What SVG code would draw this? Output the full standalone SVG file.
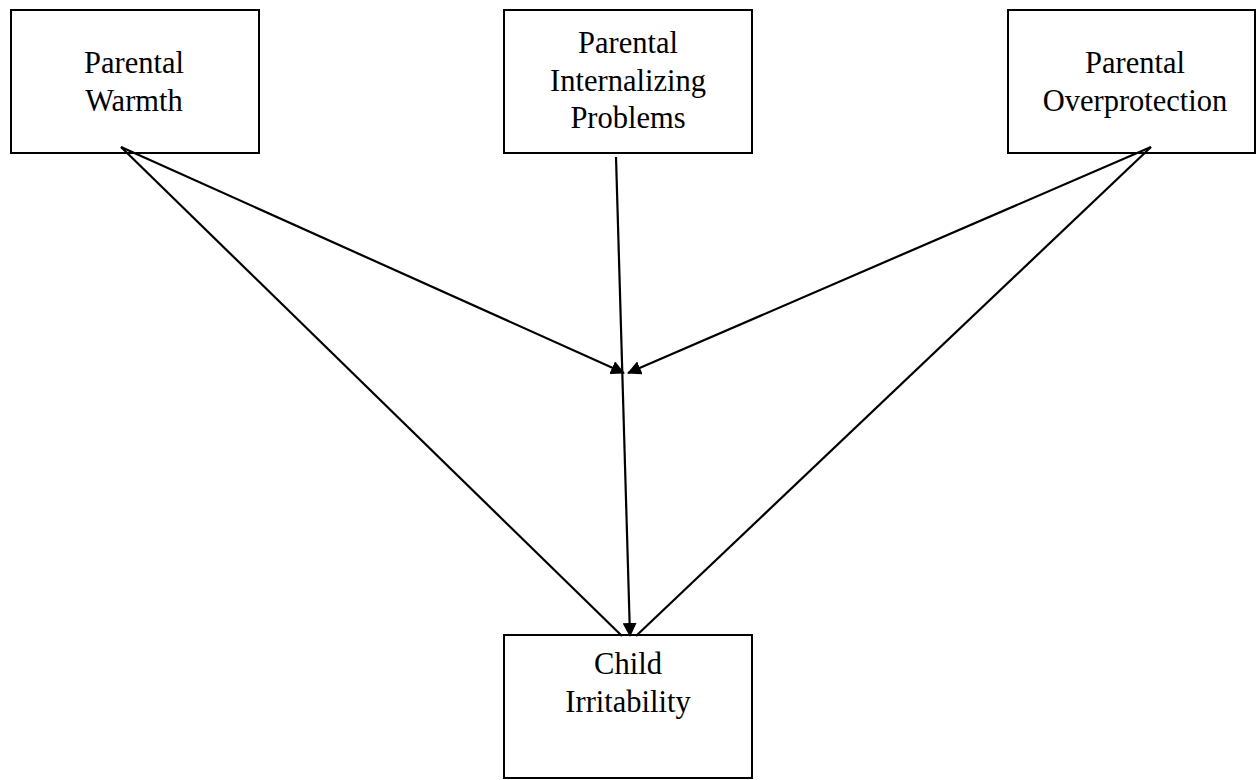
<svg xmlns="http://www.w3.org/2000/svg" width="1257" height="780" viewBox="0 0 1257 780">
<style>
.box{fill:#fff;stroke:#000;stroke-width:2}
.lbl{font-family:"Liberation Serif","Times New Roman",serif;font-size:30.5px;fill:#000;text-anchor:middle}
.edge{stroke:#000;stroke-width:2.2;fill:none}
</style>
<defs>
<marker id="ah" viewBox="0 0 14 14" refX="13" refY="7" markerWidth="14" markerHeight="14" markerUnits="userSpaceOnUse" orient="auto">
<path d="M0,0 L14,7 L0,14 Z" fill="#000"/>
</marker>
</defs>
<rect width="1257" height="780" fill="#fff"/>
<g id="warmth">
<rect class="box" x="11" y="10" width="248" height="143"/>
<text class="lbl" x="134" y="73">Parental</text>
<text class="lbl" x="134" y="111">Warmth</text>
</g>
<g id="internalizing">
<rect class="box" x="504" y="10" width="248" height="143"/>
<text class="lbl" x="628" y="53">Parental</text>
<text class="lbl" x="628" y="91">Internalizing</text>
<text class="lbl" x="628" y="128">Problems</text>
</g>
<g id="overprotection">
<rect class="box" x="1008" y="10" width="247" height="143"/>
<text class="lbl" x="1135" y="73">Parental</text>
<text class="lbl" x="1135" y="111">Overprotection</text>
</g>
<g id="child">
<rect class="box" x="504" y="635" width="248" height="143"/>
<text class="lbl" x="628" y="674">Child</text>
<text class="lbl" x="628" y="712">Irritability</text>
</g>
<g id="connectors">
<line class="edge" x1="121" y1="147" x2="622" y2="636"/>
<line class="edge" x1="1151" y1="147" x2="636" y2="636"/>
<line class="edge" x1="121" y1="147" x2="624" y2="373" marker-end="url(#ah)"/>
<line class="edge" x1="1151" y1="147" x2="628" y2="373" marker-end="url(#ah)"/>
<line class="edge" x1="616" y1="157" x2="630" y2="636" marker-end="url(#ah)"/>
</g>
</svg>
